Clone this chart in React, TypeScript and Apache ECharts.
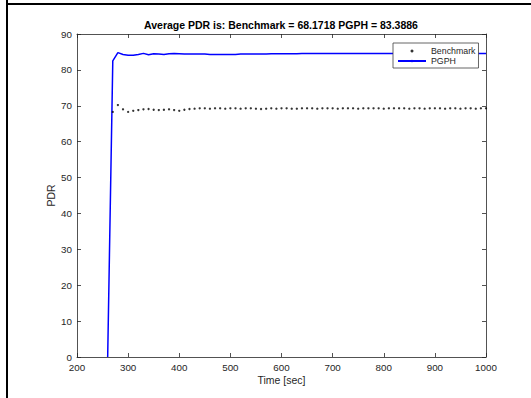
import React, { useEffect, useRef } from "react";
import * as echarts from "echarts";

const timeSec = [
  260, 270, 280, 290, 300, 310, 320, 330, 340, 350, 360, 370, 380, 390, 400, 410, 420, 430, 440, 450,
  460, 470, 480, 490, 500, 510, 520, 530, 540, 550, 560, 570, 580, 590, 600, 610, 620, 630, 640, 650,
  660, 670, 680, 690, 700, 710, 720, 730, 740, 750, 760, 770, 780, 790, 800, 810, 820, 830, 840, 850,
  860, 870, 880, 890, 900, 910, 920, 930, 940, 950, 960, 970, 980, 990, 1000,
];

const pgph = [
  0, 82.5, 84.8, 84.3, 84.1, 84.1, 84.3, 84.6, 84.2, 84.5, 84.4, 84.3, 84.5, 84.6, 84.5, 84.4, 84.4, 84.4, 84.4, 84.4,
  84.3, 84.3, 84.3, 84.3, 84.3, 84.3, 84.4, 84.4, 84.4, 84.4, 84.4, 84.4, 84.5, 84.5, 84.5, 84.5, 84.5, 84.5, 84.6, 84.6,
  84.6, 84.6, 84.6, 84.6, 84.6, 84.6, 84.6, 84.6, 84.6, 84.6, 84.6, 84.6, 84.6, 84.6, 84.6, 84.6, 84.6, 84.6, 84.6, 84.6,
  84.6, 84.6, 84.6, 84.6, 84.6, 84.6, 84.6, 84.6, 84.6, 84.6, 84.6, 84.6, 84.6, 84.6, 84.6,
];

const benchmark: (number | null)[] = [
  null,
  68.3, 70.2, 69.0, 68.3, 68.6, 68.8, 69.0, 69.1, 68.9, 68.8,
  68.9, 69.0, 68.8, 68.6, 68.9, 69.1, 69.2, 69.3, 69.3, 69.2,
  69.3, 69.3, 69.2, 69.3, 69.3, 69.2, 69.3, 69.3, 69.2, 69.1,
  69.2, 69.3, 69.2, 69.3, 69.3, 69.2, 69.2, 69.3, 69.3, 69.3,
  69.2, 69.3, 69.3, 69.3, 69.2, 69.3, 69.3, 69.3, 69.2, 69.3,
  69.3, 69.3, 69.3, 69.2, 69.3, 69.3, 69.3, 69.3, 69.2, 69.3,
  69.3, 69.2, 69.3, 69.3, 69.3, 69.2, 69.3, 69.3, 69.2, 69.3,
  69.3, 69.2, 69.3, 69.3,
];

const titleText = "Average PDR is: Benchmark = 68.1718 PGPH = 83.3886";
const xName = "Time [sec]";
const yName = "PDR";

const FONT = "'Liberation Sans', Arial, Helvetica, sans-serif";
const AX = "#262626";

export default function App() {
  const ref = useRef<HTMLDivElement>(null);
  useEffect(() => {
    if (!ref.current) return;
    const chart = echarts.init(ref.current, undefined, { renderer: "svg" });
    const axisLine = { show: true, onZero: false, lineStyle: { color: AX, width: 0.8 } };
    const tick = { show: true, inside: true, length: 4, lineStyle: { color: AX, width: 0.8 } };
    const label = { color: AX, fontSize: 9.8, fontFamily: FONT, formatter: (v: number) => String(v) };
    chart.setOption({
      animation: false,
      backgroundColor: "#ffffff",
      textStyle: { fontFamily: FONT },
      grid: { left: 77, right: 45, top: 34, bottom: 41, containLabel: false },
      xAxis: [
        {
          type: "value", min: 200, max: 1000, interval: 100, position: "bottom",
          axisLine, axisTick: tick, axisLabel: { ...label, margin: 5 }, splitLine: { show: false },
          name: xName, nameLocation: "middle", nameGap: 17, nameMoveOverlap: false,
          nameTextStyle: { color: AX, fontSize: 10.5, fontFamily: FONT },
        },
        {
          type: "value", min: 200, max: 1000, interval: 100, position: "top",
          axisLine, axisTick: tick, axisLabel: { show: false }, splitLine: { show: false },
        },
      ],
      yAxis: [
        {
          type: "value", min: 0, max: 90, interval: 10, position: "left",
          axisLine, axisTick: tick, axisLabel: { ...label, margin: 5 }, splitLine: { show: false },
          name: yName, nameLocation: "middle", nameGap: 21, nameMoveOverlap: false,
          nameTextStyle: { color: AX, fontSize: 10.5, fontFamily: FONT },
        },
        {
          type: "value", min: 0, max: 90, interval: 10, position: "right",
          axisLine, axisTick: tick, axisLabel: { show: false }, splitLine: { show: false },
        },
      ],
      legend: {
        orient: "vertical",
        left: 393,
        top: 43,
        backgroundColor: "#ffffff",
        borderColor: "#404040",
        borderWidth: 0.8,
        borderRadius: 0,
        padding: [3, 3, 2, 4],
        itemGap: 0,
        itemWidth: 28,
        itemHeight: 3,
        textStyle: { color: AX, fontSize: 8.8, fontFamily: FONT, lineHeight: 10 },
        data: [
          { name: "Benchmark", icon: "circle" },
          { name: "PGPH" },
        ],
      },
      graphic: [
        {
          type: "text",
          style: {
            text: titleText, x: 281, y: 25, textAlign: "center", textVerticalAlign: "middle",
            font: `bold 10.5px ${FONT}`, fill: "#000000",
          },
        },
        { type: "line", shape: { x1: 7, y1: 0, x2: 7, y2: 398 }, style: { stroke: "#000000", lineWidth: 2 } },
        { type: "line", shape: { x1: 6, y1: 4, x2: 531, y2: 4 }, style: { stroke: "#000000", lineWidth: 2 } },
      ],
      series: [
        {
          name: "Benchmark",
          type: "scatter",
          xAxisIndex: 0, yAxisIndex: 0,
          symbol: "circle",
          symbolSize: 2.3,
          itemStyle: { color: "#000000" },
          data: timeSec.map((t, i) => [t, benchmark[i]]).filter((d) => d[1] !== null),
          z: 3,
        },
        {
          name: "PGPH",
          type: "line",
          xAxisIndex: 0, yAxisIndex: 0,
          symbol: "none",
          lineStyle: { color: "#0000ff", width: 1.5 },
          itemStyle: { color: "#0000ff" },
          data: timeSec.map((t, i) => [t, pgph[i]]),
          z: 2,
        },
      ],
    });
    return () => chart.dispose();
  }, []);
  return (
    <div
      ref={ref}
      style={{ position: "fixed", left: 0, top: 0, width: 531, height: 398, background: "#fff" }}
    />
  );
}
